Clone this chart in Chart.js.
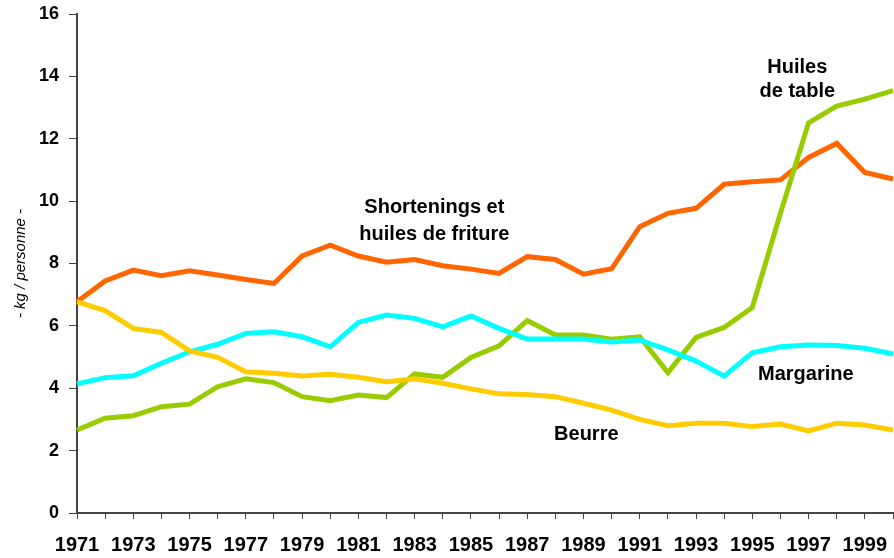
<!DOCTYPE html>
<html>
<head>
<meta charset="utf-8">
<script src="https://cdn.jsdelivr.net/npm/chart.js@4/dist/chart.umd.min.js"></script>
<style>
  html, body { margin: 0; padding: 0; background: #fff; }
  #wrap { width: 894px; height: 558px; position: relative; }
</style>
</head>
<body>
<div id="wrap"><canvas id="fatChart"></canvas></div>
<script>
// années 1971 - 2000
const years = [];
for (let y = 1971; y <= 2000; y++) years.push(String(y));

const shortenings = [6.77, 7.44, 7.79, 7.61, 7.77, 7.63, 7.49, 7.36, 8.24, 8.59,
                     8.24, 8.04, 8.13, 7.93, 7.82, 7.68, 8.22, 8.13, 7.66, 7.83,
                     9.18, 9.61, 9.77, 10.54, 10.62, 10.68, 11.40, 11.85, 10.92, 10.71];
const beurre = [6.77, 6.49, 5.92, 5.79, 5.20, 4.99, 4.53, 4.48, 4.39, 4.45,
                4.35, 4.21, 4.30, 4.16, 3.98, 3.82, 3.80, 3.73, 3.52, 3.30,
                3.00, 2.80, 2.88, 2.88, 2.77, 2.85, 2.63, 2.88, 2.82, 2.66];
const margarine = [4.14, 4.34, 4.40, 4.80, 5.17, 5.41, 5.76, 5.81, 5.65, 5.33,
                   6.11, 6.35, 6.24, 5.97, 6.32, 5.92, 5.58, 5.58, 5.58, 5.48,
                   5.55, 5.23, 4.87, 4.39, 5.14, 5.33, 5.39, 5.37, 5.28, 5.10];
const huilesTable = [2.66, 3.04, 3.12, 3.41, 3.49, 4.05, 4.30, 4.18, 3.73, 3.60,
                     3.78, 3.70, 4.46, 4.35, 4.99, 5.36, 6.17, 5.71, 5.71, 5.57,
                     5.65, 4.50, 5.63, 5.95, 6.59, 9.61, 12.51, 13.05, 13.27, 13.54];

// étiquettes dans le graphique : [texte, index année, valeur]
const annotations = [
    ['Shortenings et', 12.7, 9.8],
    ['huiles de friture', 12.7, 8.93],
    ['Huiles', 25.6, 14.28],
    ['de table', 25.6, 13.5],
    ['Margarine', 25.9, 4.45],
    ['Beurre', 18.1, 2.53]
];

const FONT = 'Arial, "Liberation Sans", sans-serif';

const textPlugin = {
    id: 'seriesText',
    afterDatasetsDraw(chart) {
        const { ctx, scales: { x, y } } = chart;
        ctx.save();
        ctx.fillStyle = '#000';
        ctx.font = 'bold 20px ' + FONT;
        ctx.textAlign = 'center';
        ctx.textBaseline = 'middle';
        annotations.forEach(([txt, xi, yv]) => {
            ctx.fillText(txt, x.getPixelForValue(xi), y.getPixelForValue(yv));
        });
        ctx.restore();
    }
};

function mkSet(label, data, color) {
    return {
        label: label,
        data: data,
        borderColor: color,
        backgroundColor: color,
        borderWidth: 5,
        pointRadius: 0,
        tension: 0,
        borderJoinStyle: 'miter'
    };
}

new Chart(document.getElementById('fatChart').getContext('2d'), {
    type: 'line',
    data: {
        labels: years,
        datasets: [
            mkSet('Beurre', beurre, '#FFCC00'),
            mkSet('Margarine', margarine, '#00FFFF'),
            mkSet('Huiles de table', huilesTable, '#99CC00'),
            mkSet('Shortenings et huiles de friture', shortenings, '#FF6600')
        ]
    },
    options: {
        responsive: true,
        maintainAspectRatio: false,
        animation: false,
        layout: { padding: { top: 14, right: 1, left: 0, bottom: 0 } },
        plugins: {
            legend: { display: false },
            tooltip: { enabled: false }
        },
        scales: {
            x: {
                offset: false,
                grid: {
                    drawOnChartArea: false,
                    tickLength: 6,
                    color: '#444',
                    tickColor: '#444'
                },
                border: { color: '#444', width: 2 },
                ticks: {
                    autoSkip: false,
                    maxRotation: 0,
                    padding: 14,
                    color: '#000',
                    font: { family: FONT, size: 20, weight: 'bold' },
                    callback: function(val, i) { return i % 2 === 0 ? this.getLabelForValue(val) : ''; }
                },
                afterFit(scale) {
                    scale.height = 45;
                    scale.paddingLeft = 0;
                    scale.paddingRight = 0;
                }
            },
            y: {
                min: 0,
                max: 16,
                ticks: {
                    stepSize: 2,
                    padding: 10,
                    color: '#000',
                    font: { family: FONT, size: 18, weight: 'bold' }
                },
                grid: {
                    drawOnChartArea: false,
                    tickLength: 8,
                    color: '#444',
                    tickColor: '#444'
                },
                border: { color: '#444', width: 2 },
                title: {
                    display: true,
                    text: '- kg / personne -',
                    color: '#000',
                    padding: { top: 12, bottom: 0 },
                    font: { family: FONT, size: 15, style: 'italic', weight: 'normal' }
                },
                afterFit(scale) {
                    scale.width = 77;
                    scale.paddingTop = 0;
                    scale.paddingBottom = 0;
                }
            }
        }
    },
    plugins: [textPlugin]
});
</script>
</body>
</html>
